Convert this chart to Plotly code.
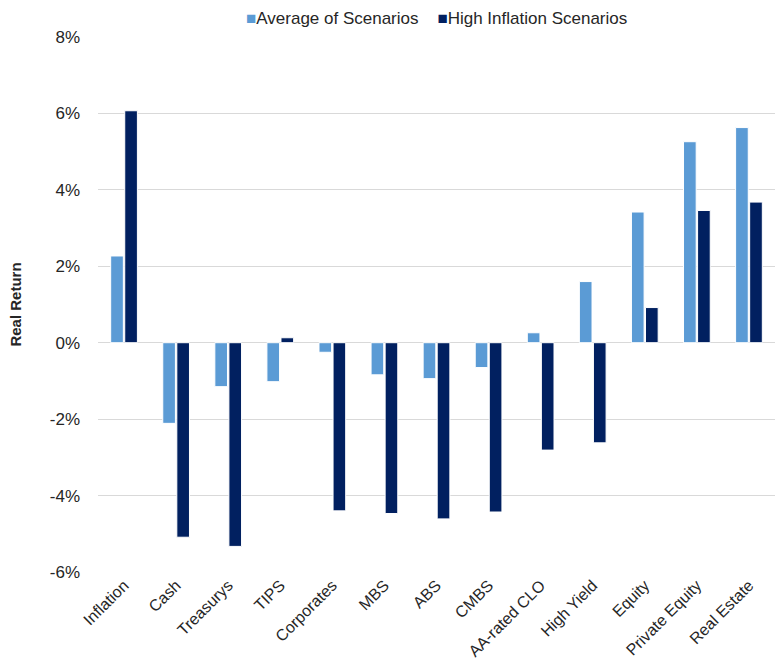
import plotly.graph_objects as go

categories = ["Inflation", "Cash", "Treasurys", "TIPS", "Corporates", "MBS", "ABS",
              "CMBS", "AA-rated CLO", "High Yield", "Equity", "Private Equity", "Real Estate"]
avg_scenarios = [2.27, -2.11, -1.15, -1.02, -0.25, -0.84, -0.94, -0.65, 0.26, 1.60, 3.42, 5.26, 5.63]
high_inflation = [6.07, -5.09, -5.33, 0.13, -4.40, -4.47, -4.61, -4.43, -2.81, -2.62, 0.92, 3.46, 3.68]
y_ticks = [-6, -4, -2, 0, 2, 4, 6, 8]

series_names = ["Average of Scenarios", "High Inflation Scenarios"]
series_colors = ["#5B9BD5", "#012060"]

font_family = "Liberation Sans, Arial, sans-serif"
text_color = "#262626"

fig = go.Figure()
for name, values, color in zip(series_names, [avg_scenarios, high_inflation], series_colors):
    fig.add_trace(go.Bar(
        name=name, x=categories, y=[v / 100 for v in values],
        marker=dict(color=color, line=dict(color="#FFFFFF", width=1)),
        showlegend=False,
    ))

# compact legend: coloured square glyph directly before each label
legend_text = "&nbsp;&nbsp;&nbsp;&nbsp;".join(
    f"<span style='color:{c}'>■</span>{n}" for n, c in zip(series_names, series_colors)
)
fig.add_annotation(
    text=legend_text, xref="paper", yref="paper", x=0.5, y=1.035,
    xanchor="center", yanchor="middle", showarrow=False,
    font=dict(size=17, color=text_color, family=font_family),
)

fig.update_layout(
    width=781, height=667,
    margin=dict(l=98, r=6, t=37, b=95),
    paper_bgcolor="white", plot_bgcolor="white",
    barmode="group", bargap=0.46, bargroupgap=0.1,
    font=dict(family=font_family, color=text_color),
)
fig.update_xaxes(
    tickangle=-45, tickfont=dict(size=16, color=text_color),
    showgrid=False, showline=False, ticks="",
)
fig.update_yaxes(
    range=[-0.06, 0.08], tickvals=[v / 100 for v in y_ticks],
    ticktext=[f"{v}%" for v in y_ticks],
    tickfont=dict(size=17, color=text_color),
    showgrid=True, gridcolor="#D9D9D9", gridwidth=1,
    zeroline=True, zerolinecolor="#D9D9D9", zerolinewidth=1,
    title=dict(text="<b>Real Return</b>", font=dict(size=15, color=text_color), standoff=24),
    ticks="", ticklabelstandoff=17,
)

fig.write_html("out.html")
